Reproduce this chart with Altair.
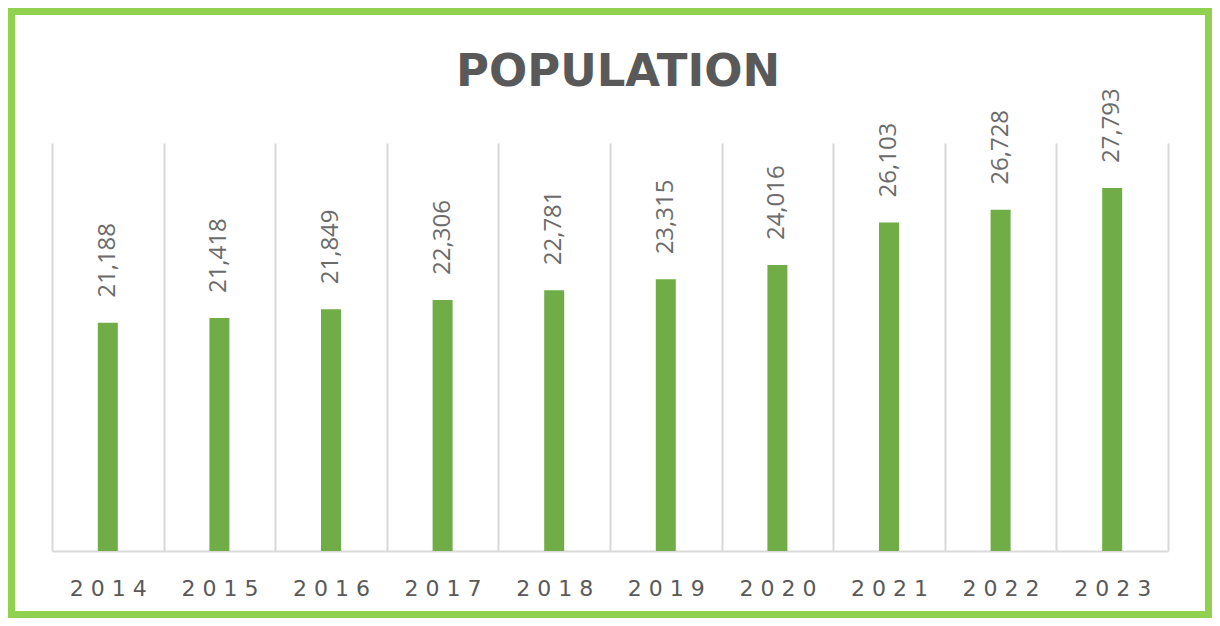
import altair as alt
import pandas as pd

years = ["2014", "2015", "2016", "2017", "2018", "2019", "2020", "2021", "2022", "2023"]
population = [21188, 21418, 21849, 22306, 22781, 23315, 24016, 26103, 26728, 27793]

df = pd.DataFrame({"year": years, "population": population})

W, H = 1116, 408
BAR = "#70AD47"
FRAME = "#92D050"
GREY = "#595959"

base = alt.Chart(df)

x_enc = alt.X(
    "year:N",
    sort=years,
    scale=alt.Scale(paddingInner=0, paddingOuter=0),
    axis=alt.Axis(
        title=None,
        ticks=False,
        tickBand="extent",
        grid=True,
        gridColor="#d9d9d9",
        gridWidth=2,
        domainColor="#d9d9d9",
        domainWidth=2,
        labelAngle=0,
        labelFont="DejaVu Sans",
        labelFontSize=22,
        labelColor=GREY,
        labelPadding=27,
        labelExpr="join(split(datum.label, ''), ' ')",
    ),
)
y_scale = alt.Scale(domain=[10000, 30000], zero=False, nice=False)

bars = base.mark_bar(size=20, color=BAR).encode(
    x=x_enc,
    y=alt.Y("population:Q", scale=y_scale, axis=None, stack=None),
    y2=alt.datum(10000),
)

labels = base.mark_text(
    angle=270, align="left", baseline="middle", dx=25,
    font="Open Sans", fontSize=24, color="#6b6b6b",
).encode(
    x=alt.X("year:N", sort=years),
    y=alt.Y("population:Q", scale=y_scale),
    text=alt.Text("population:Q", format=","),
)

frame = alt.Chart(pd.DataFrame({"k": [0]})).mark_rect(
    fill=None, stroke=FRAME, strokeWidth=7, clip=False
).encode(
    x=alt.value(-40.5), x2=alt.value(W + 40.5),
    y=alt.value(-131.5), y2=alt.value(H + 63.5),
)

chart = alt.layer(bars, labels, frame).properties(
    width=W, height=H,
    title=alt.TitleParams(
        "POPULATION", font="DejaVu Sans", fontSize=45, fontWeight="bold",
        color=GREY, anchor="middle", baseline="alphabetic", offset=0,
        dy=123, dx=8,
    ),
    padding={"left": 44, "top": 135, "right": 44, "bottom": 67},
    autosize=alt.AutoSizeParams(type="none"),
    background="white",
).configure_view(stroke=None)

chart.save("out.html", embed_options={"renderer": "svg", "actions": False})
